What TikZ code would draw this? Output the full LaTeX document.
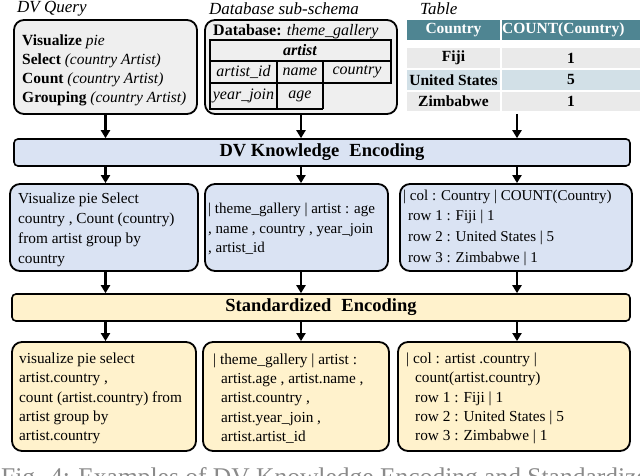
\documentclass[tikz,border=0pt]{standalone}
\usepackage{fontspec}
\setmainfont{Liberation Serif}
\usetikzlibrary{arrows.meta,calc}
\definecolor{qfill}{HTML}{EFEFEF}
\definecolor{bluefill}{HTML}{DAE3F3}
\definecolor{yelfill}{HTML}{FFF2CC}
\definecolor{thead}{HTML}{4F8592}
\definecolor{rowgray}{HTML}{EAEAEA}
\definecolor{rowblue}{HTML}{D2E0E7}
\definecolor{capgray}{HTML}{8A8A8A}
\begin{document}
\begin{tikzpicture}[x=1pt,y=1pt,
  box/.style={draw=black, line width=1.8pt, rounded corners=10pt, inner sep=0pt},
  btext/.style={anchor=west, inner sep=0pt, align=left},
  bar/.style={draw=black, line width=1.6pt, rounded corners=4pt, inner sep=0pt, font=\fontsize{18.5}{20}\selectfont\bfseries},
  arr/.style={line width=2.2pt, -{Triangle[length=8pt,width=9pt]}},
  lbl/.style={font=\fontsize{17}{17}\selectfont\itshape, anchor=west, inner sep=0pt},
  cell/.style={font=\fontsize{16}{16}\selectfont\itshape, inner sep=0pt},
  tcell/.style={font=\fontsize{15.5}{16}\selectfont\bfseries, inner sep=0pt},
  grid/.style={line width=1.3pt}
]
\useasboundingbox (0,0) rectangle (640,476);

% labels
\node[lbl] (lq) at (17,467) {DV Query};
\node[lbl] (ldb) at (209,467) {Database sub-schema};
\node[lbl] (lt) at (420,467) {Table};

% DV query box
\node[box, fill=qfill, minimum width=183pt, minimum height=94pt] (qbox) at (105.5,409) {};
\node[btext, font=\fontsize{15.5}{19}\selectfont] (qbox-t) at (22,405.5)
 {\textbf{Visualize} \textit{pie}\\ \textbf{Select} \textit{(country Artist)}\\ \textbf{Count} \textit{(country Artist)}\\ \textbf{Grouping} \textit{(country Artist)}};

% database box
\node[box, fill=qfill, minimum width=192pt, minimum height=94pt] (dbbox) at (301,409) {};
\node[anchor=west, inner sep=0pt, font=\fontsize{16}{16}\selectfont] (dbtitle) at (213,444)
 {\textbf{Database:} \textit{theme\_gallery}};
\draw[grid] (210,436) rectangle (391,393);
\draw[grid] (210,415) -- (391,415);
\draw[grid] (277,415) -- (277,367);
\draw[grid] (323,415) -- (323,367);
\draw[grid] (210,393) -- (210,367) -- (323,367);
\node[cell, font=\fontsize{16}{16}\selectfont\bfseries\itshape] (c-artist) at (300,425.5) {artist};
\node[cell] (c-id) at (243.5,404) {artist\_id};
\node[cell] (c-name) at (300,404) {name};
\node[cell] (c-country) at (357,404) {country};
\node[cell] (c-year) at (243.5,380) {year\_join};
\node[cell] (c-age) at (300,380) {age};

% result table
\fill[thead] (407,456) rectangle (500,436);
\fill[thead] (502,456) rectangle (645,436);
\fill[rowgray] (407,428) rectangle (500,408);
\fill[rowgray] (502,428) rectangle (645,408);
\fill[rowblue] (407,406) rectangle (500,386);
\fill[rowblue] (502,406) rectangle (645,386);
\fill[rowgray] (407,384) rectangle (500,365);
\fill[rowgray] (502,384) rectangle (645,365);
\node[tcell, text=white] (th1) at (453.5,446) {Country};
\node[tcell, text=white, anchor=west] (th2) at (502,446) {COUNT(Country)};
\node[tcell] (t11) at (453.5,418) {Fiji};
\node[tcell] (t12) at (571,418) {1};
\node[tcell] (t21) at (453.5,396) {United States};
\node[tcell] (t22) at (571,396) {5};
\node[tcell] (t31) at (453.5,374.5) {Zimbabwe};
\node[tcell] (t32) at (571,374.5) {1};
\coordinate (tabarr) at (517,362);

% bar 1
\node[bar, fill=bluefill, minimum width=616pt, minimum height=27pt] (bar1) at (322,323.5)
 {DV Knowledge\hspace{0.3em} Encoding};

% row 2
\node[box, fill=bluefill, minimum width=188pt, minimum height=87pt] (r2a) at (104,248.5) {};
\node[btext, font=\fontsize{15.3}{20}\selectfont] (r2a-t) at (18,246)
 {Visualize pie Select\\ country , Count (country)\\ from artist group by\\ country};
\node[box, fill=bluefill, minimum width=183pt, minimum height=87pt] (r2b) at (296.5,248.5) {};
\node[btext, font=\fontsize{15}{19.5}\selectfont] (r2b-t) at (208,247)
 {| theme\_gallery | artist : age\\ , name , country , year\_join\\ , artist\_id};
\node[box, fill=bluefill, minimum width=232pt, minimum height=87pt] (r2c) at (516,248.5) {};
\node[btext, font=\fontsize{15}{20.7}\selectfont] (r2c-t) at (403,248.5)
 {| col : Country | COUNT(Country)\\ \hspace*{5pt}row 1 : Fiji | 1\\ \hspace*{5pt}row 2 : United States | 5\\ \hspace*{5pt}row 3 : Zimbabwe | 1};

% bar 2
\node[bar, fill=yelfill, minimum width=618pt, minimum height=27pt] (bar2) at (321,168.5)
 {Standardized\hspace{0.3em} Encoding};

% row 3
\node[box, fill=yelfill, minimum width=184pt, minimum height=109pt] (r3a) at (104,79.5) {};
\node[btext, font=\fontsize{15.3}{19.3}\selectfont] (r3a-t) at (19,77.5)
 {visualize pie select\\ artist.country ,\\ count (artist.country) from\\ artist group by\\ artist.country};
\node[box, fill=yelfill, minimum width=186pt, minimum height=109pt] (r3b) at (296,79.5) {};
\node[btext, font=\fontsize{15.3}{19.3}\selectfont] (r3b-t) at (213,77.5)
 {| theme\_gallery | artist :\\ \hspace*{8pt}artist.age , artist.name ,\\ \hspace*{8pt}artist.country ,\\ \hspace*{8pt}artist.year\_join ,\\ \hspace*{8pt}artist.artist\_id};
\node[box, fill=yelfill, minimum width=232pt, minimum height=109pt] (r3c) at (514,79.5) {};
\node[btext, font=\fontsize{15.3}{19.3}\selectfont] (r3c-t) at (406,77.5)
 {| col : artist .country |\\ \hspace*{9pt}count(artist.country)\\ \hspace*{9pt}row 1 : Fiji | 1\\ \hspace*{9pt}row 2 : United States | 5\\ \hspace*{9pt}row 3 : Zimbabwe | 1};

% arrows
\draw[arr] (qbox.south) -- (qbox.south |- bar1.north);
\draw[arr] (dbbox.south) -- (dbbox.south |- bar1.north);
\draw[arr] (tabarr) -- (tabarr |- bar1.north);
\draw[arr] (bar1.south -| qbox.south) -- (r2a.north -| qbox.south);
\draw[arr] (bar1.south -| dbbox.south) -- (r2b.north -| dbbox.south);
\draw[arr] (bar1.south -| tabarr) -- (r2c.north -| tabarr);
\draw[arr] (r2a.south -| qbox.south) -- (bar2.north -| qbox.south);
\draw[arr] (r2b.south -| dbbox.south) -- (bar2.north -| dbbox.south);
\draw[arr] (r2c.south -| tabarr) -- (bar2.north -| tabarr);
\draw[arr] (bar2.south -| qbox.south) -- (r3a.north -| qbox.south);
\draw[arr] (bar2.south -| dbbox.south) -- (r3b.north -| dbbox.south);
\draw[arr] (bar2.south -| tabarr) -- (r3c.north -| tabarr);

% caption (cut off at the bottom edge, as in the reference)
\node[anchor=base west, inner sep=0pt, text=capgray, font=\fontsize{25.5}{26}\selectfont] (cap) at (1,-10)
 {Fig. 4: Examples of DV Knowledge Encoding and Standardized Encoding};
\end{tikzpicture}
\end{document}
